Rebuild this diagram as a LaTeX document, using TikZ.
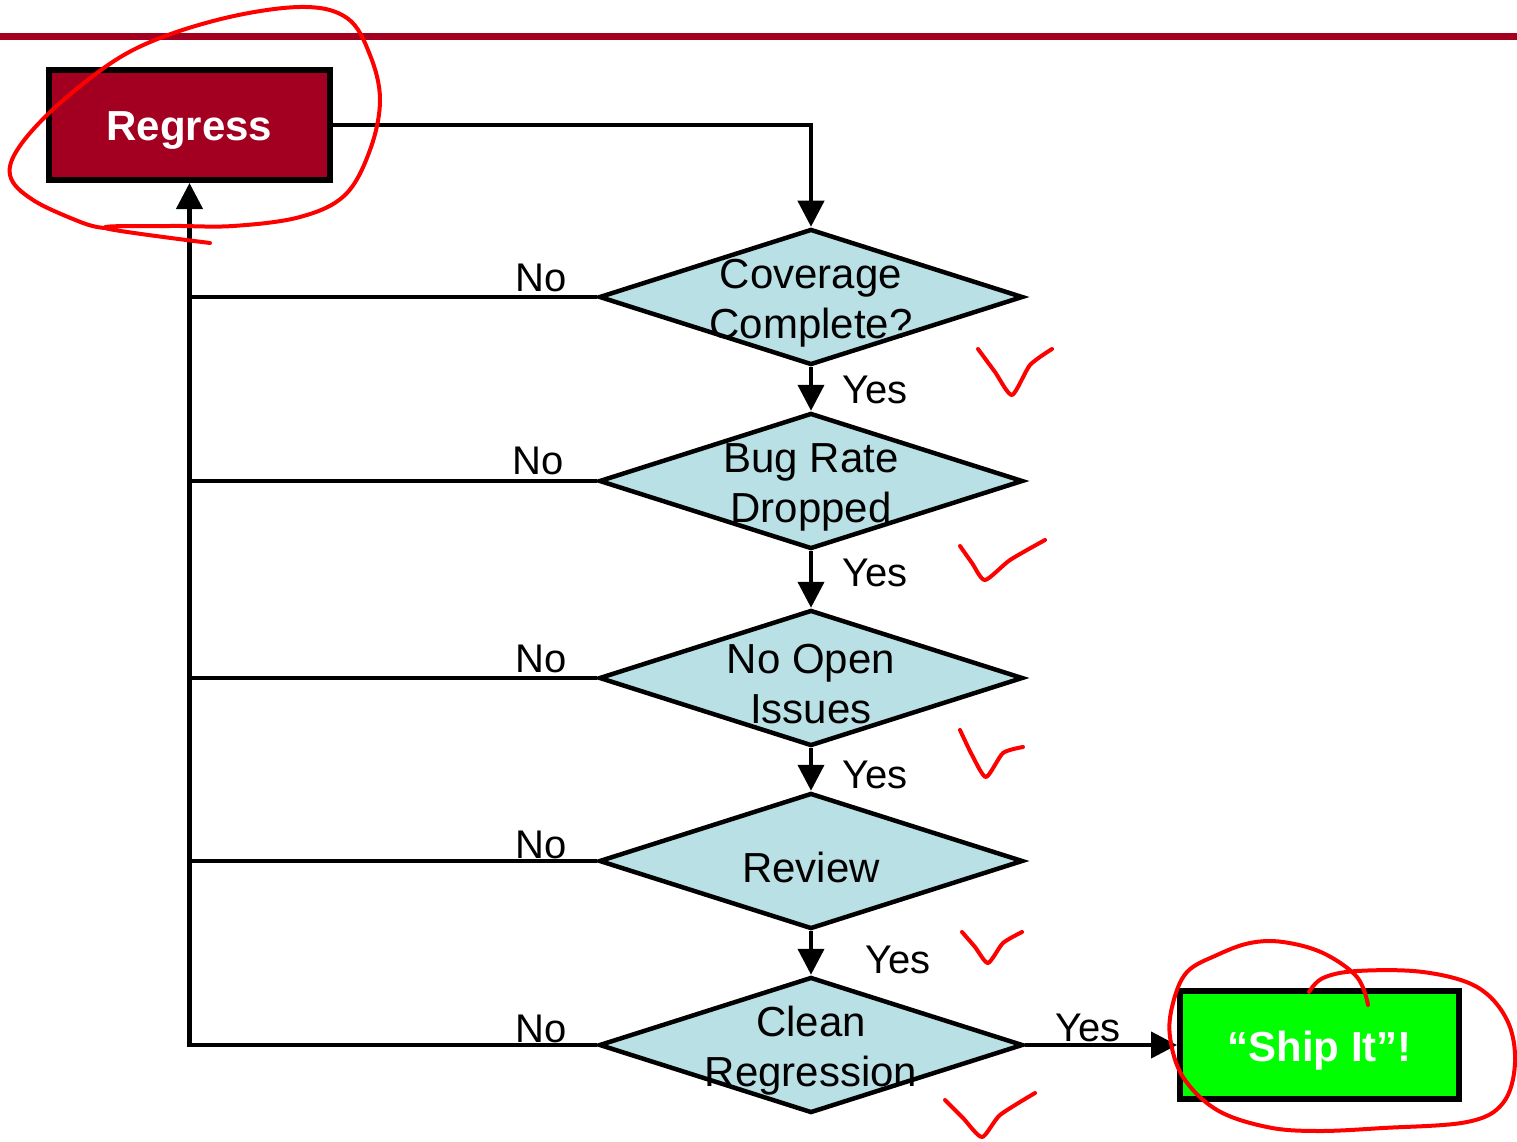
\documentclass[tikz,border=0pt]{standalone}
\usepackage{fontspec}
\setmainfont{Liberation Sans}
\usetikzlibrary{shapes.geometric,arrows.meta}
\definecolor{crimson}{RGB}{163,0,33}
\definecolor{paleblue}{RGB}{185,224,228}
\definecolor{brightgreen}{RGB}{0,255,0}
\definecolor{inkred}{RGB}{255,0,0}
\tikzset{
  box/.style={draw=black,line width=6pt,minimum width=281pt,minimum height=110pt,inner sep=0pt,
    font=\fontsize{42}{50}\selectfont\bfseries,text=white},
  decision/.style={diamond,draw=black,line width=4.5pt,fill=paleblue,minimum width=424pt,
    minimum height=136pt,inner sep=0pt},
  dtext/.style={align=center,font=\fontsize{42}{50}\selectfont,inner sep=0pt,yshift=-6pt},
  lbl/.style={font=\fontsize{40}{48}\selectfont,inner sep=0pt},
  flow/.style={line width=4.2pt},
  arrow/.style={flow,-{Triangle[length=26pt,width=26pt]}},
  ink/.style={draw=inkred,line width=4pt,line cap=round,line join=round}
}
\begin{document}
\begin{tikzpicture}[x=1pt,y=-1pt]
\useasboundingbox (0,0) rectangle (1517,1142);

% header rule
\fill[crimson] (0,33.5) rectangle (1517,40.5);

% boxes
\node[box,fill=crimson] (regress) at (189.5,125) {\raisebox{-16pt}[0pt][0pt]{Regress}};
\node[box,fill=brightgreen,minimum width=279pt,minimum height=108pt] (ship) at (1319.5,1045) {\raisebox{-16pt}[0pt][0pt]{``Ship It''!}};

% decisions
\node[decision] (d1) at (811,297) {};
\node[decision] (d2) at (811,481) {};
\node[decision] (d3) at (811,678) {};
\node[decision] (d4) at (811,861) {};
\node[decision] (d5) at (811,1045) {};

\node[dtext] (t1) at (d1) {Coverage\\Complete?};
\node[dtext] (t2) at (d2) {Bug Rate\\Dropped};
\node[dtext] (t3) at (d3) {No Open\\Issues};
\node[dtext] (t4) at (d4) {Review};
\node[dtext] (t5) at (d5) {Clean\\Regression};

% main flow
\draw[arrow] (regress.east) -| (d1.north);
\draw[arrow] (d1.south) -- (d2.north);
\draw[arrow] (d2.south) -- (d3.north);
\draw[arrow] (d3.south) -- (d4.north);
\draw[arrow] (d4.south) -- (d5.north);
\draw[arrow] (d5.east) -- (ship.west);

% "No" branches back to Regress
\draw[arrow] (d5.west) -| (regress.south);
\draw[flow] (d1.west) -- (d1.west -| regress.south);
\draw[flow] (d2.west) -- (d2.west -| regress.south);
\draw[flow] (d3.west) -- (d3.west -| regress.south);
\draw[flow] (d4.west) -- (d4.west -| regress.south);

% labels
\node[lbl] (n1) at (541,278) {No};
\node[lbl] (n2) at (538,461) {No};
\node[lbl] (n3) at (541,659) {No};
\node[lbl] (n4) at (541,845) {No};
\node[lbl] (n5) at (541,1029) {No};
\node[lbl] (y1) at (875,390) {Yes};
\node[lbl] (y2) at (875,573) {Yes};
\node[lbl] (y3) at (875,775) {Yes};
\node[lbl] (y4) at (898,960) {Yes};
\node[lbl] (y5) at (1088,1028) {Yes};

% hand-drawn marks
\draw[ink] plot[smooth,tension=0.6] coordinates {(210,243) (105,228) (170,226) (233,226) (300,217) (345,195) (370,150) (380,100) (370,55) (347,18) (300,7) (217,20) (133,50) (67,97) (22,143) (10,175) (33,200) (83,223) (105,228)};
\draw[ink] plot[smooth,tension=0.6] coordinates {(1368,1005) (1357,977) (1323,953) (1283,942) (1250,943) (1217,955) (1187,972) (1173,1003) (1170,1037) (1183,1077) (1217,1110) (1267,1127) (1317,1131) (1383,1128) (1467,1122) (1503,1103) (1515,1063) (1507,1020) (1477,987) (1423,972) (1357,971) (1323,978) (1309,992)};
\draw[ink] plot[smooth,tension=0.4] coordinates {(978,349) (995,372) (1012,395) (1030,365) (1052,349)};
\draw[ink] plot[smooth,tension=0.4] coordinates {(960,546) (972,563) (985,580) (1010,560) (1045,540)};
\draw[ink] plot[smooth,tension=0.4] coordinates {(960,730) (972,755) (986,777) (1003,753) (1023,747)};
\draw[ink] plot[smooth,tension=0.4] coordinates {(962,932) (975,947) (988,963) (1003,943) (1022,932)};
\draw[ink] plot[smooth,tension=0.4] coordinates {(945,1100) (963,1118) (982,1137) (1000,1115) (1035,1093)};
\end{tikzpicture}
\end{document}
